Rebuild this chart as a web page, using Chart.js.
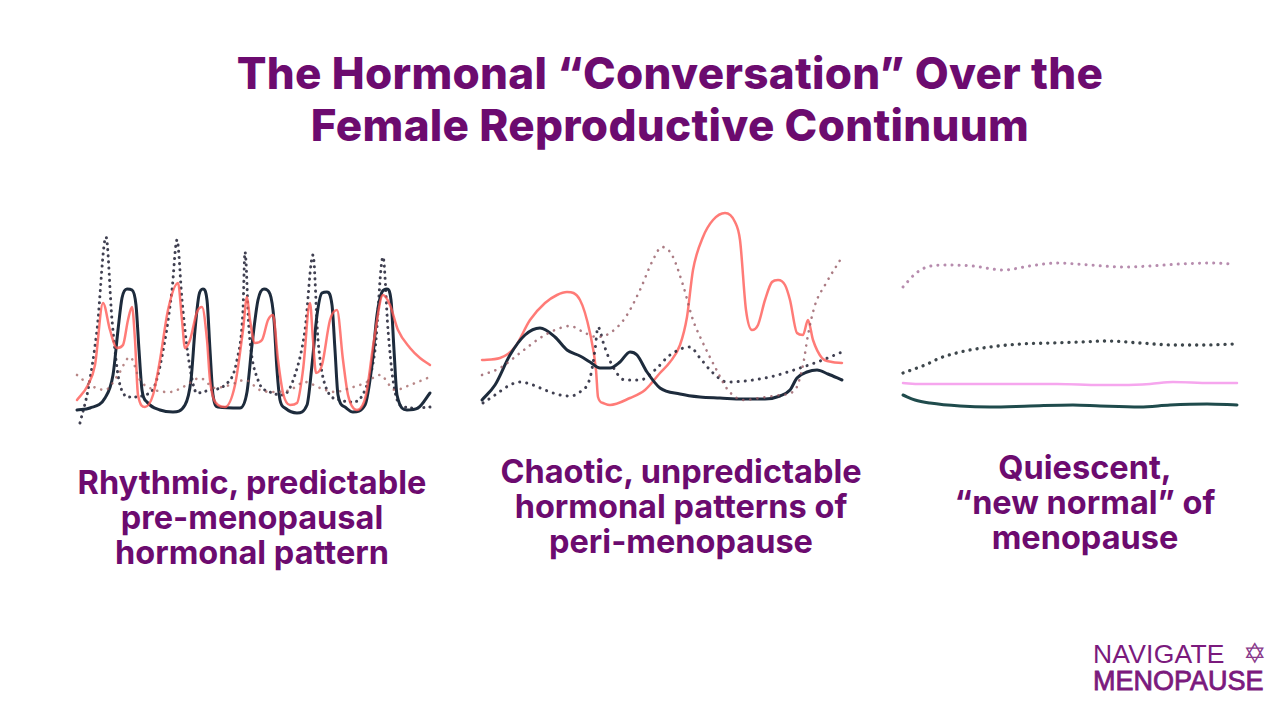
<!DOCTYPE html>
<html>
<head>
<meta charset="utf-8">
<script src="https://cdn.jsdelivr.net/npm/chart.js@4.4.1/dist/chart.umd.min.js"></script>
<style>
    body { margin: 0; width: 1280px; height: 720px; background: #fff; position: relative; overflow: hidden; font-family: 'Inter', 'Noto Sans', sans-serif; color: #6c0b6f; }
    .title { position: absolute; left: 0; width: 1340px; top: 47px; text-align: center; font-size: 44px; font-weight: 800; line-height: 52px; letter-spacing: 0.3px; }
    .label { position: absolute; text-align: center; font-size: 32.5px; font-weight: 700; line-height: 35px; }
    .panel { position: absolute; }
    .logo { position: absolute; left: 1093px; top: 641px; font-family: 'Liberation Sans', sans-serif; color: #7b1a7d; }
    .logo .l1 { font-size: 26.5px; font-weight: 400; letter-spacing: 0.2px; line-height: 27px; }
    .logo .l2 { font-size: 27px; font-weight: 400; line-height: 27px; -webkit-text-stroke: 0.8px #7b1a7d; }
    .star { position: absolute; left: 150px; top: -4px; font-size: 28px; color: #8a3a8c; }
</style>
</head>
<body>
<div class="title">The Hormonal “Conversation” Over the<br>Female Reproductive Continuum</div>

<div class="panel" style="left:70px; top:200px;"><canvas id="c1" width="380" height="240"></canvas></div>
<div class="panel" style="left:470px; top:200px;"><canvas id="c2" width="390" height="220"></canvas></div>
<div class="panel" style="left:890px; top:240px;"><canvas id="c3" width="360" height="180"></canvas></div>

<div class="label" style="left:52px; width:400px; top:465px;">Rhythmic, predictable<br>pre-menopausal<br>hormonal pattern</div>
<div class="label" style="left:481px; width:400px; top:454px;">Chaotic, unpredictable<br>hormonal patterns of<br>peri-menopause</div>
<div class="label" style="left:885px; width:400px; top:450px;">Quiescent,<br>“new normal” of<br>menopause</div>

<div class="logo"><div class="l1">NAVIGATE</div><div class="l2">MENOPAUSE</div><span class="star">✡</span></div>

<script>
// --- panel 1: pre-menopause (x, y in page pixels) ---
const p1NavyX = [77, 90, 105, 113, 118, 122, 127, 132, 136, 139, 142, 147, 160, 173, 185, 191, 195, 199, 203, 207, 210, 213, 218, 240, 247, 252, 258, 264, 270, 274, 277, 280, 285, 297, 307, 312, 317, 322, 327, 332, 335, 338, 345, 353, 365, 372, 377, 382, 387, 391, 394, 397, 407, 418, 430];
const p1NavyY = [410, 408, 398, 375, 330, 298, 289, 290, 305, 350, 390, 402, 410, 412, 405, 380, 330, 295, 289, 300, 350, 395, 407, 408, 392, 345, 300, 289, 294, 320, 370, 400, 408, 413, 405, 365, 315, 293, 292, 305, 350, 395, 407, 412, 405, 365, 315, 292, 289, 300, 350, 395, 410, 408, 393];
const p1RedX = [77, 88, 95, 103, 110, 117, 123, 128, 132, 135, 138, 145, 153, 160, 168, 178, 182, 185, 190, 197, 202, 207, 210, 218, 225, 235, 243, 247, 250, 255, 262, 268, 273, 278, 283, 290, 297, 303, 310, 313, 316, 322, 330, 337, 343, 348, 357, 366, 374, 383, 390, 398, 410, 420, 430];
const p1RedY = [400, 385, 365, 303, 330, 348, 345, 320, 307, 340, 395, 407, 395, 360, 310, 283, 320, 348, 340, 312, 307, 340, 380, 405, 407, 385, 330, 297, 320, 343, 340, 320, 315, 360, 393, 405, 403, 370, 303, 340, 373, 365, 320, 310, 360, 395, 410, 395, 340, 295, 305, 330, 348, 358, 365];
const p1DotX = [80, 88, 97, 106, 112, 120, 130, 145, 155, 165, 172, 177, 182, 188, 197, 210, 225, 237, 243, 245, 249, 258, 270, 283, 295, 305, 313, 318, 327, 340, 353, 365, 375, 383, 388, 393, 400, 415, 430];
const p1DotY = [423, 390, 330, 237, 320, 385, 397, 395, 385, 340, 290, 240, 300, 355, 393, 390, 385, 360, 310, 252, 330, 380, 392, 395, 375, 330, 255, 340, 390, 400, 402, 390, 350, 257, 330, 380, 405, 408, 407];
const p1RoseX = [77, 90, 105, 118, 130, 140, 155, 170, 185, 200, 215, 230, 245, 260, 275, 290, 305, 320, 335, 350, 365, 380, 395, 410, 430];
const p1RoseY = [375, 385, 390, 375, 357, 380, 390, 392, 386, 378, 388, 385, 380, 390, 392, 390, 382, 388, 392, 388, 383, 375, 390, 385, 377];

// --- panel 2: peri-menopause ---
const p2RedX = [482, 500, 515, 530, 545, 557, 567, 580, 590, 596, 598, 603, 610, 630, 645, 660, 670, 680, 687, 693, 703, 713, 725, 735, 740, 746, 752, 758, 765, 772, 778, 785, 790, 797, 803, 808, 813, 822, 832, 842];
const p2RedY = [360, 358, 347, 320, 303, 295, 292, 300, 333, 370, 397, 403, 405, 398, 390, 373, 362, 345, 317, 270, 237, 220, 213, 222, 240, 310, 330, 325, 300, 282, 280, 285, 300, 333, 335, 320, 340, 358, 362, 363];
const p2NavyX = [482, 495, 510, 525, 540, 555, 567, 580, 590, 600, 610, 620, 630, 637, 647, 660, 680, 700, 720, 743, 765, 780, 790, 797, 807, 817, 828, 842];
const p2NavyY = [400, 385, 355, 335, 328, 337, 350, 356, 362, 368, 368, 362, 352, 355, 372, 388, 394, 397, 398, 399, 399, 396, 390, 378, 372, 370, 374, 380];
const p2DotX = [483, 495, 510, 520, 533, 545, 560, 570, 580, 590, 595, 598, 604, 612, 625, 640, 655, 670, 690, 700, 712, 727, 745, 770, 800, 820, 842];
const p2DotY = [403, 395, 385, 382, 385, 390, 395, 396, 392, 378, 350, 327, 345, 365, 380, 380, 370, 355, 347, 358, 372, 382, 381, 377, 368, 361, 352];
const p2RoseX = [482, 500, 520, 540, 555, 570, 585, 597, 610, 625, 640, 652, 662, 672, 683, 693, 703, 715, 728, 743, 760, 780, 795, 803, 808, 815, 825, 842];
const p2RoseY = [375, 368, 353, 338, 330, 326, 333, 337, 333, 318, 290, 262, 247, 255, 285, 320, 343, 367, 390, 400, 398, 395, 390, 365, 335, 305, 285, 257];

// --- panel 3: menopause ---
const p3MauveX = [903, 915, 927, 947, 973, 1003, 1030, 1057, 1090, 1123, 1150, 1180, 1210, 1233];
const p3MauveY = [287, 274, 267, 265, 266, 270, 266, 263, 265, 267, 266, 264, 263, 264];
const p3DotX = [903, 925, 940, 965, 990, 1020, 1050, 1080, 1107, 1140, 1175, 1205, 1233];
const p3DotY = [373, 365, 358, 351, 347, 344, 343, 342, 341, 343, 345, 345, 344];
const p3PinkX = [903, 920, 957, 1000, 1057, 1100, 1123, 1150, 1173, 1210, 1237];
const p3PinkY = [383, 384, 384, 384, 384, 385, 385, 384, 382, 383, 383];
const p3TealX = [903, 915, 930, 960, 990, 1030, 1073, 1100, 1140, 1170, 1207, 1237];
const p3TealY = [395, 400, 403, 406, 407, 406, 405, 406, 407, 405, 404, 405];

function pts(xs, ys) {
    return xs.map((x, i) => ({ x: x, y: ys[i] }));
}

function solid(xs, ys, color, width) {
    return { data: pts(xs, ys), borderColor: color, borderWidth: width, pointRadius: 0, fill: false, tension: 0.4, cubicInterpolationMode: 'monotone', borderCapStyle: 'round', borderJoinStyle: 'round' };
}

function dotted(xs, ys, color, width, gap) {
    return { data: pts(xs, ys), borderColor: color, borderWidth: width, borderDash: [0.1, gap], borderCapStyle: 'round', pointRadius: 0, fill: false, tension: 0.4, cubicInterpolationMode: 'monotone' };
}

// page-pixel scales so each canvas maps straight onto its spot in the page
function renderPanel(id, left, top, w, h, datasets) {
    const ctx = document.getElementById(id).getContext('2d');
    new Chart(ctx, {
        type: 'line',
        data: { datasets: datasets },
        options: {
            responsive: false,
            animation: false,
            clip: false,
            layout: { padding: 0 },
            scales: {
                x: { type: 'linear', display: false, min: left, max: left + w },
                y: { type: 'linear', display: false, reverse: true, min: top, max: top + h }
            },
            plugins: { legend: { display: false }, tooltip: { enabled: false } }
        }
    });
}

renderPanel('c1', 70, 200, 380, 240, [
    dotted(p1RoseX, p1RoseY, 'rgba(160,95,95,0.75)', 2.6, 7),
    solid(p1RedX, p1RedY, 'rgba(255,90,85,0.8)', 2.5),
    solid(p1NavyX, p1NavyY, '#1d2b3c', 3),
    dotted(p1DotX, p1DotY, 'rgba(30,30,50,0.85)', 3, 6)
]);

renderPanel('c2', 470, 200, 390, 220, [
    dotted(p2RoseX, p2RoseY, 'rgba(150,90,100,0.8)', 2.6, 7),
    dotted(p2DotX, p2DotY, 'rgba(30,30,50,0.85)', 3, 7),
    solid(p2NavyX, p2NavyY, '#1d2b3c', 3),
    solid(p2RedX, p2RedY, 'rgba(255,90,85,0.8)', 2.5)
]);

renderPanel('c3', 890, 240, 360, 180, [
    dotted(p3MauveX, p3MauveY, 'rgba(170,120,160,0.85)', 3, 7),
    dotted(p3DotX, p3DotY, 'rgba(40,50,55,0.9)', 3.3, 7),
    solid(p3PinkX, p3PinkY, '#f6a6ee', 2.5),
    solid(p3TealX, p3TealY, '#1f4b4c', 3)
]);
</script>
</body>
</html>
